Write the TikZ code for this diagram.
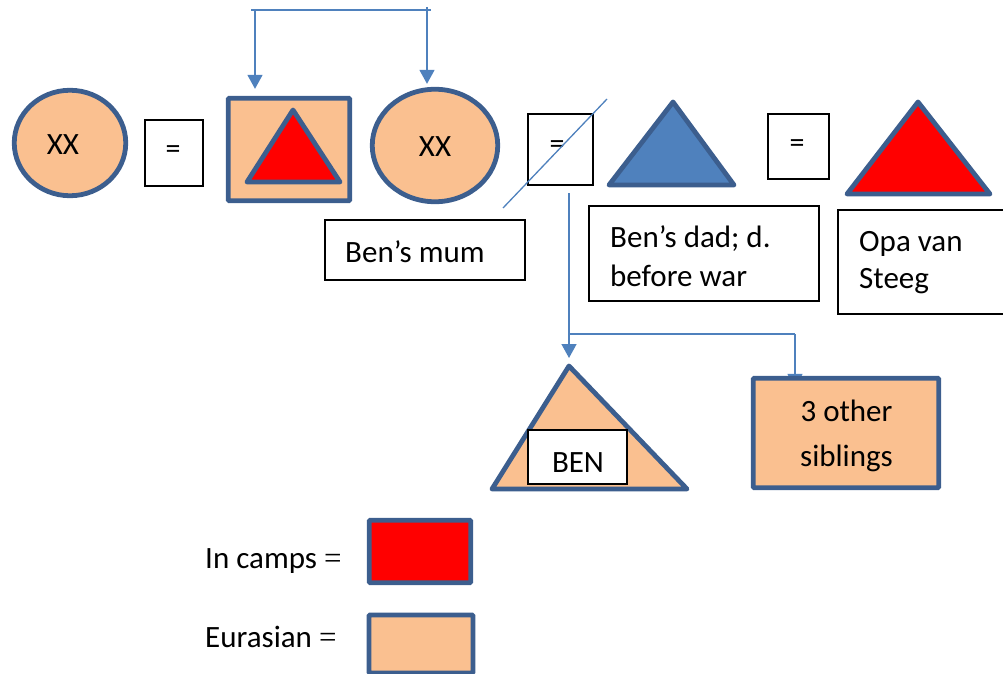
\documentclass[tikz,border=0pt]{standalone}
\usepackage{fontspec}
\setmainfont{Carlito}
\newfontfamily\eqfont{Liberation Serif}
\usetikzlibrary{shapes.geometric,arrows.meta}
\definecolor{eur}{HTML}{FAC090}
\definecolor{bord}{HTML}{3C5E8E}
\definecolor{conn}{HTML}{4F81BD}
\definecolor{blfill}{HTML}{4F81BD}
\pgfdeclarelayer{bg}
\pgfsetlayers{bg,main}
\begin{document}
\begin{tikzpicture}[x=1pt,y=-1pt,
  person/.style={draw=bord,line width=4.8pt,fill=eur,ellipse,inner sep=0pt},
  thickbox/.style={draw=bord,line width=4.8pt,rectangle,inner sep=0pt,rounded corners=1pt},
  eqbox/.style={draw=black,line width=1.3pt,fill=white,rectangle,inner sep=0pt},
  namebox/.style={draw=black,line width=1.3pt,fill=white,rectangle,inner sep=0pt},
  tri/.style={draw=bord,line width=4.8pt,line join=round},
  txt/.style={inner sep=0pt,font=\fontsize{31}{38}\selectfont},
  eqtxt/.style={inner sep=0pt,font=\fontsize{30}{34}\selectfont},
  connline/.style={draw=conn,line width=1.5pt},
  arr/.style={connline,-{Triangle[width=15pt,length=14pt]}}
]
\useasboundingbox (0,0) rectangle (1003,674);

% first generation
\node[person,minimum width=111.5pt,minimum height=105.5pt] (e1) at (70,143) {};
\node[txt,anchor=base] (xx1) at (63,154) {XX};
\node[eqbox,minimum width=58pt,minimum height=66pt] (eq1) at (174,153) {};
\node[eqtxt] (eq1t) at (173,152) {=};
\node[thickbox,fill=eur,minimum width=121.5pt,minimum height=102.5pt] (sq) at (289,149.5) {};
\coordinate (t1a) at (293,110);
\coordinate (t1b) at (247,182);
\coordinate (t1c) at (340,182);
\draw[tri,fill=red] (t1a) -- (t1b) -- (t1c) -- cycle;
\node[person,minimum width=125.5pt,minimum height=112.5pt] (e2) at (435,145.5) {};
\node[txt,anchor=base] (xx2) at (435,156) {XX};

% second row of spouses
\node[eqbox,minimum width=65pt,minimum height=71pt] (eq2) at (560.5,149.5) {};
\node[eqtxt] (eq2t) at (557,147) {=};
\coordinate (d1) at (503,208);
\coordinate (d2) at (607,99);
\draw[conn,line width=1.3pt] (d1) -- (d2);

\coordinate (t2a) at (673,102);
\coordinate (t2b) at (609,185);
\coordinate (t2c) at (734,185);
\draw[tri,fill=blfill] (t2a) -- (t2b) -- (t2c) -- cycle;

\node[eqbox,minimum width=61pt,minimum height=65pt] (eq3) at (798.5,146.5) {};
\node[eqtxt] (eq3t) at (797,146) {=};

\coordinate (t3a) at (918,102);
\coordinate (t3b) at (847,194);
\coordinate (t3c) at (990,194);
\draw[tri,fill=red] (t3a) -- (t3b) -- (t3c) -- cycle;

% name boxes
\node[namebox,minimum width=200pt,minimum height=60pt] (mum) at (425,250) {};
\node[txt,anchor=base west] (mumt) at (345,262) {Ben’s mum};
\node[namebox,minimum width=230pt,minimum height=95pt] (dad) at (704,253.5) {};
\node[txt,anchor=base west] (dadt1) at (610,247) {Ben’s dad; d.};
\node[txt,anchor=base west] (dadt2) at (610,286) {before war};
\node[namebox,minimum width=180pt,minimum height=104pt] (opa) at (928,262) {};
\node[txt,anchor=base west] (opat1) at (859,251) {Opa van};
\node[txt,anchor=base west] (opat2) at (859,288) {Steeg};

% children
\coordinate (btop) at (569,366);
\coordinate (bl) at (492,489);
\coordinate (br) at (687,489);
\draw[tri,fill=eur] (btop) -- (bl) -- (br) -- cycle;
\node[namebox,minimum width=99pt,minimum height=54pt] (ben) at (577.5,457) {};
\node[txt,anchor=base] (bent) at (578,472) {BEN};

\node[thickbox,fill=eur,minimum width=185.5pt,minimum height=109.5pt] (sib) at (846,433) {};
\node[txt,anchor=base] (sibt1) at (846.5,421.5) {3 other};
\node[txt,anchor=base] (sibt2) at (846.5,466.5) {siblings};

% connectors
\coordinate (tl) at (251,10);
\coordinate (tr) at (431,10);
\coordinate (ts) at (255,10);
\coordinate (te) at (427,7);
\coordinate (ds) at (569,193);
\coordinate (dj) at (569,334);
\coordinate (dk) at (795,334);
\begin{pgfonlayer}{bg}
\draw[connline] (tl) -- (tr);
\draw[arr,shorten >=7pt] (ts) -- (ts |- sq.north);
\draw[arr,shorten >=3pt] (te) -- (te |- e2.north);
\draw[arr,shorten >=8pt] (ds) -- (btop);
\draw[connline] (dj) -- (dk);
\draw[arr,shorten >=-12pt] (dk) -- (dk |- sib.north);
\end{pgfonlayer}

% legend
\node[txt,anchor=base west] (camps) at (205,568) {In camps {\eqfont =}};
\node[thickbox,fill=red,minimum width=101.5pt,minimum height=62.5pt] (lred) at (420,551.5) {};
\node[txt,anchor=base west] (eura) at (205,647) {Eurasian {\eqfont =}};
\node[thickbox,fill=eur,minimum width=104pt,minimum height=58pt] (lor) at (421,644) {};
\end{tikzpicture}
\end{document}
